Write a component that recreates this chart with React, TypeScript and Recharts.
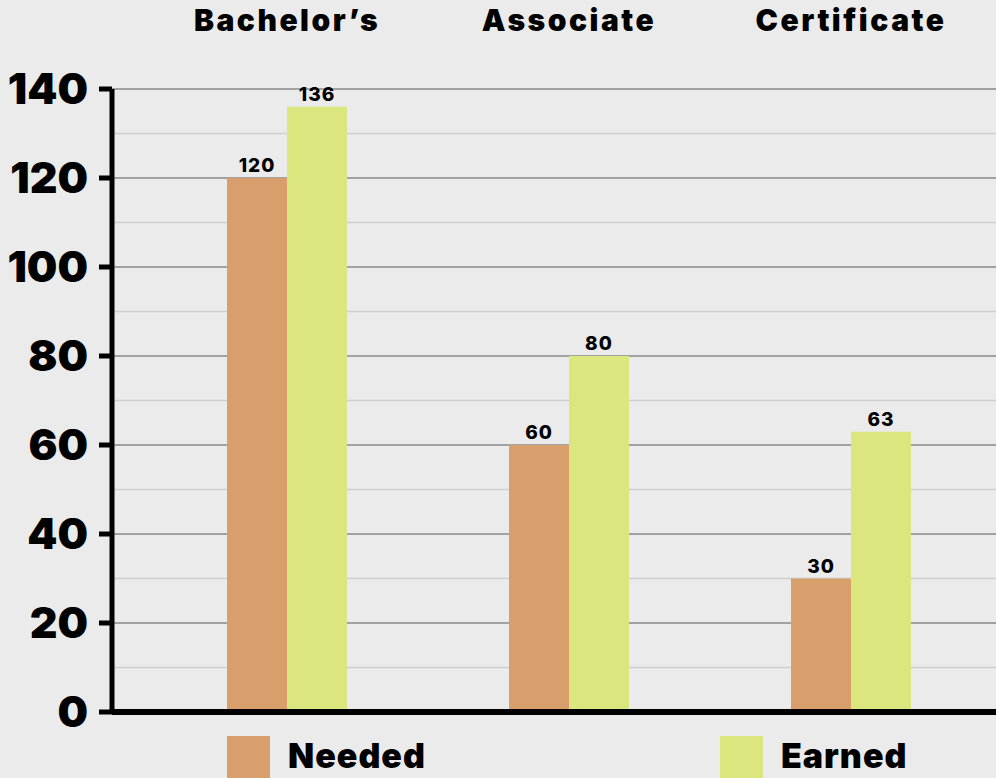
import {
  BarChart,
  Bar,
  XAxis,
  YAxis,
  CartesianGrid,
  ReferenceLine,
  LabelList,
} from 'recharts'

const categories = ['Bachelor’s', 'Associate', 'Certificate']
const needed = [120, 60, 30]
const earned = [136, 80, 63]
const yTicks = [0, 20, 40, 60, 80, 100, 120, 140]
const minorTicks = [10, 30, 50, 70, 90, 110, 130]
const seriesNames = ['Needed', 'Earned']

const data = categories.map((name, i) => ({
  name,
  needed: needed[i],
  earned: earned[i],
}))

const FONT = 'Inter, "Liberation Sans", sans-serif'
const NEEDED_COLOR = '#d89e6b'
const EARNED_COLOR = '#dce67f'

function CategoryTick(props: any) {
  const { x, y, payload } = props
  return (
    <text
      x={x}
      y={y - 50}
      textAnchor="middle"
      fontFamily={FONT}
      fontWeight={900}
      fontSize={30}
      letterSpacing={2.5}
      fill="#000"
    >
      {payload.value}
    </text>
  )
}

// legend drawn by hand under the plot, two swatches far apart like the original
function LegendBox() {
  const items = [
    { label: seriesNames[0], color: NEEDED_COLOR, left: 227 },
    { label: seriesNames[1], color: EARNED_COLOR, left: 720 },
  ]
  return (
    <div style={{ position: 'absolute', left: 0, top: 736, width: 996, height: 42 }}>
      {items.map((it) => (
        <div
          key={it.label}
          style={{ position: 'absolute', left: it.left, top: 0, display: 'flex', alignItems: 'flex-start' }}
        >
          <div style={{ width: 43, height: 42, background: it.color }} />
          <span
            style={{
              marginLeft: 18,
              marginTop: 2,
              fontFamily: FONT,
              fontWeight: 900,
              fontSize: 34,
              letterSpacing: 1,
              lineHeight: '36px',
              color: '#000',
            }}
          >
            {it.label}
          </span>
        </div>
      ))}
    </div>
  )
}

export default function App() {
  return (
    <div style={{ position: 'absolute', left: 0, top: 0, width: 996, height: 778, background: '#ebebeb', overflow: 'hidden' }}>
      <BarChart
        width={996}
        height={778}
        data={data}
        margin={{ top: 0, right: 0, left: 0, bottom: 66 }}
        barSize={60}
        barGap={0}
      >
        <CartesianGrid
          vertical={false}
          horizontalValues={minorTicks}
          stroke="#cfcfcf"
          strokeWidth={1.5}
        />
        <CartesianGrid
          vertical={false}
          horizontalValues={yTicks}
          stroke="#8a8a8a"
          strokeWidth={1.5}
        />
        <XAxis
          dataKey="name"
          orientation="top"
          height={89}
          axisLine={false}
          tickLine={false}
          padding={{ left: 34, right: 4 }}
          tick={<CategoryTick />}
          interval={0}
        />
        <YAxis
          domain={[0, 140]}
          ticks={yTicks}
          width={112}
          axisLine={{ stroke: '#000', strokeWidth: 5 }}
          tickLine={{ stroke: '#000', strokeWidth: 5 }}
          tickSize={13}
          tickMargin={11}
          tick={{ fontFamily: FONT, fontWeight: 900, fontSize: 43, fill: '#000' }}
          interval={0}
        />
        <Bar dataKey="needed" name={seriesNames[0]} fill={NEEDED_COLOR} isAnimationActive={false}>
          <LabelList
            dataKey="needed"
            position="top"
            offset={6}
            fill="#000"
            fontFamily={FONT}
            fontWeight={800}
            fontSize={19}
            letterSpacing={1}
          />
        </Bar>
        <Bar dataKey="earned" name={seriesNames[1]} fill={EARNED_COLOR} isAnimationActive={false}>
          <LabelList
            dataKey="earned"
            position="top"
            offset={6}
            fill="#000"
            fontFamily={FONT}
            fontWeight={800}
            fontSize={19}
            letterSpacing={1}
          />
        </Bar>
        <ReferenceLine y={0} stroke="#000" strokeWidth={6} />
      </BarChart>
      <LegendBox />
    </div>
  )
}
